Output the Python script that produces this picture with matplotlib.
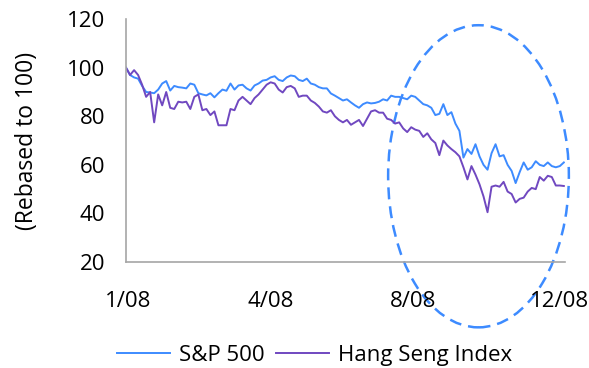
import matplotlib
matplotlib.use('Agg')
import matplotlib.pyplot as plt
from matplotlib.patches import Ellipse

plt.rcParams['font.family'] = ['Open Sans', 'DejaVu Sans']

# 数据（目测读取，重定基期为100）
sp500 = [100, 97, 96, 95.5, 92.5, 90, 89.8, 89.5, 91, 93.5,
         94.5, 90.6, 92.5, 92, 91.8, 91.5, 93.5, 93, 89.5, 89,
         88.6, 89.5, 87.8, 89.5, 91, 90.5, 93.5, 91, 92.7, 93,
         91.5, 90.6, 92.7, 93.5, 94.7, 95, 96, 96.5, 95, 94.5,
         96, 96.8, 96.5, 95, 94.5, 95.5, 93.5, 93, 92, 91.5,
         91.5, 89.4, 88.5, 87.5, 86.5, 87, 85.7, 84.5, 83.5, 85,
         85.7, 85.3, 85.5, 86, 87, 86.5, 88.5, 88, 88, 87.5,
         87, 88.5, 88, 86.5, 85, 84.5, 83.5, 80.5, 81, 85,
         80.5, 81.7, 77, 74, 63, 66.5, 64.5, 68.5, 63.5, 60,
         58, 64.8, 68.5, 63.5, 64, 60, 57.5, 52.5, 57, 61,
         58, 59, 61.5, 60, 59.5, 61, 59.5, 59, 59.5, 61]
hang_seng = [100, 97, 99, 97, 93, 88, 90, 77.5, 89, 84.5,
             90, 83.5, 83, 86, 85.7, 86, 83, 88, 89, 82.5,
             83, 80.5, 82, 76.3, 76.3, 76.3, 83, 82.5, 86.5, 88,
             86.5, 85, 87.5, 89, 91, 93, 94, 93.5, 91, 89.8,
             92, 92.5, 91.5, 88, 88.5, 88.5, 86.5, 85.5, 84, 82,
             81.5, 82.5, 80, 78.5, 77.5, 78.5, 76.5, 77.5, 78.5, 76,
             79, 82, 82.5, 81.5, 81.5, 79, 78.5, 77, 77.5, 75,
             73.5, 75.5, 74.5, 74, 71.5, 73, 70.5, 69, 64, 70,
             68, 66.5, 65.2, 63.5, 59, 54, 59.5, 56, 52, 47,
             40.5, 51, 51.5, 51, 53, 49, 48, 44.5, 46, 46.5,
             49, 50.5, 50, 55, 53.5, 55.5, 55, 51.5, 51.5, 51.3]
tick_labels = ['1/08', '4/08', '8/08', '12/08']
tick_pos = [0.5, 36, 71.5, 108]
x = list(range(len(sp500)))

blue = '#3d8bff'
purple = '#7048c0'

fig = plt.figure(figsize=(5.89, 3.68), dpi=100)
ax = fig.add_axes([0.214, 0.288, 0.745, 0.66])

ax.plot(x, sp500, color=blue, lw=1.4, label='S&P 500')
ax.plot(x, hang_seng, color=purple, lw=1.4, label='Hang Seng Index')

ax.set_xlim(0, 109.25)
ax.set_ylim(20, 120)
ax.set_yticks([20, 40, 60, 80, 100, 120])
ax.set_xticks(tick_pos)
ax.set_xticklabels(tick_labels)
ax.tick_params(length=0, labelsize=16)
ax.tick_params(axis='y', pad=15)
ax.tick_params(axis='x', pad=21)
ax.set_ylabel('(Rebased to 100)', fontsize=16.5, labelpad=20)

for s in ['top', 'right']:
    ax.spines[s].set_visible(False)
for s in ['left', 'bottom']:
    ax.spines[s].set_color('#a6a6a6')
    ax.spines[s].set_linewidth(1.2)

# 虚线椭圆标注
ell = Ellipse((87.75, 55.3), 45, 124.4, fill=False, edgecolor=blue,
              lw=1.8, linestyle=(0, (4.8, 2.8)), clip_on=False)
ax.add_patch(ell)

fig.legend(loc='center', bbox_to_anchor=(0.534, 0.035), ncol=2, frameon=False,
           fontsize=16, handlelength=2.4, handletextpad=0.4, columnspacing=0.5)

fig.savefig('out.png', dpi=100)
